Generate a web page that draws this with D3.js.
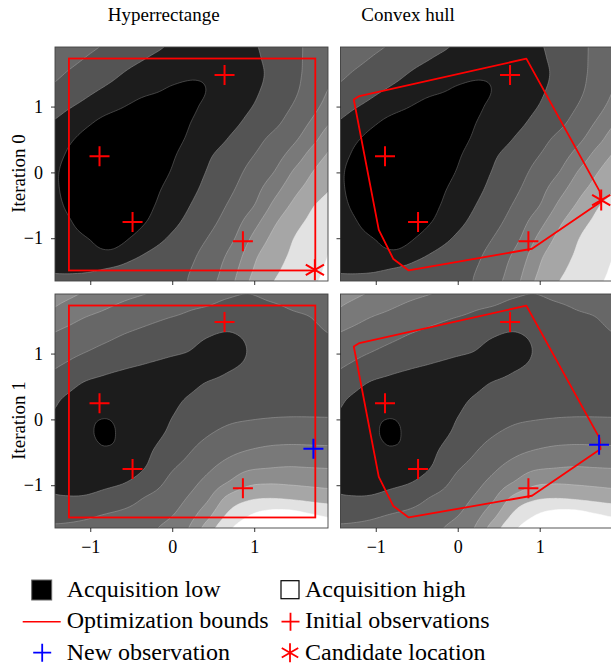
<!DOCTYPE html>
<html><head><meta charset="utf-8">
<script src="https://cdn.jsdelivr.net/npm/d3@7"></script>
<style>
body{margin:0;background:#fff;}
svg{display:block;}
text{font-family:"Liberation Serif","Times New Roman",serif;fill:#000;}
</style>
</head><body>
<svg id="chart" width="611" height="665"></svg>
<script>
// ---------------- data ----------------
const columnTitles = ["Hyperrectange", "Convex hull"];
const rowTitles = ["Iteration 0", "Iteration 1"];
const xTickValues = [-1, 0, 1];
const yTickValues = [-1, 0, 1];
const xExtent = [-1.43, 1.90];
const yExtent = [-1.65, 1.905];

// acquisition level thresholds (band k = values in [k, k+1))
const levelThresholds = [1, 2, 3, 4, 5, 6, 7, 8];
const levelColors = ["#000000", "#1c1c1c", "#545454", "#676767", "#797979", "#8d8d8d", "#a6a6a6", "#e2e2e2", "#ffffff"];

// acquisition surface, iteration 0 (rows from top y=2.0 down, step 0.25; columns from x=-1.5, step 0.25)
const acqGridStep = 0.25;
const acqIter0Origin = [-1.5, 2.0];
const acqIter0 = [
  [3.87, 3.56, 3.24, 2.92, 2.61, 2.29, 1.95, 1.7, 1.55, 1.7, 1.95, 2.4, 2.85, 3.24, 3.58],
  [3.59, 3.26, 2.92, 2.58, 2.24, 1.95, 1.7, 1.4, 1.3, 1.45, 1.85, 2.33, 2.84, 3.27, 3.68],
  [3.25, 2.9, 2.55, 2.2, 1.85, 1.6, 1.35, 1.15, 1.15, 1.35, 1.75, 2.28, 2.83, 3.36, 3.9],
  [2.89, 2.52, 2.14, 1.8, 1.5, 1.2, 0.85, 0.8, 1.14, 1.51, 1.87, 2.35, 2.89, 3.56, 4.23],
  [2.47, 2.06, 1.67, 1.28, 0.86, 0.36, 0.38, 0.88, 1.28, 1.66, 2.04, 2.56, 3.12, 3.85, 4.57],
  [1.98, 1.52, 1.06, 0.56, 0.3, 0.3, 0.56, 1.05, 1.45, 1.85, 2.32, 2.82, 3.48, 4.29, 5.2],
  [1.51, 1.1, 0.62, 0.3, 0.3, 0.3, 0.72, 1.21, 1.68, 2.17, 2.7, 3.28, 3.9, 4.88, 6.0],
  [1.3, 0.86, 0.3, 0.3, 0.3, 0.3, 0.9, 1.45, 2.02, 2.52, 3.02, 3.63, 4.5, 5.6, 6.33],
  [1.2, 0.72, 0.3, 0.3, 0.3, 0.56, 1.07, 1.65, 2.21, 2.74, 3.35, 4.05, 5.2, 6.13, 6.75],
  [1.2, 0.74, 0.3, 0.3, 0.3, 0.76, 1.29, 1.84, 2.4, 2.96, 3.66, 4.65, 5.75, 6.51, 7.1],
  [1.28, 0.84, 0.3, 0.3, 0.42, 0.92, 1.49, 2.07, 2.62, 3.24, 4.0, 5.26, 6.26, 7.03, 7.5],
  [1.45, 1.05, 0.56, 0.3, 0.62, 1.15, 1.76, 2.33, 2.87, 3.58, 4.65, 5.86, 6.71, 7.31, 7.8],
  [1.5, 1.25, 0.96, 0.54, 1.05, 1.61, 2.15, 2.63, 3.18, 3.94, 5.25, 6.3, 7.04, 7.55, 8.06],
  [1.6, 1.45, 1.3, 1.25, 1.75, 2.17, 2.53, 2.89, 3.49, 4.39, 5.78, 6.6, 7.2, 7.68, 8.15],
  [1.95, 1.93, 1.97, 2.15, 2.37, 2.59, 2.8, 3.05, 3.69, 4.76, 6.09, 6.85, 7.37, 7.83, 8.3],
  [2.3, 2.3, 2.35, 2.45, 2.6, 2.75, 2.87, 3.12, 3.9, 5.0, 6.4, 7.1, 7.6, 8.0, 8.4]
];

// acquisition surface, iteration 1 (rows from top y=2.05 down, columns from x=-1.58)
const acqIter1Origin = [-1.58, 2.05];
const acqIter1 = [
  [5.9, 5.7, 5.2, 4.84, 4.6, 4.3, 3.96, 3.63, 3.45, 3.3, 3.15, 3.3, 3.45, 3.7, 3.9],
  [5.48, 5.05, 4.63, 4.29, 4.0, 3.75, 3.5, 3.25, 3.15, 2.94, 2.85, 3.0, 3.15, 3.35, 3.6],
  [4.82, 4.39, 4.02, 3.77, 3.5, 3.25, 3.04, 2.88, 2.65, 2.44, 2.5, 2.6, 2.85, 2.98, 3.3],
  [4.09, 3.82, 3.56, 3.29, 3.0, 2.79, 2.62, 2.47, 2.12, 1.94, 2.15, 2.35, 2.62, 2.75, 3.0],
  [3.63, 3.38, 3.09, 2.79, 2.54, 2.36, 2.21, 2.06, 1.71, 1.52, 2.02, 2.3, 2.5, 2.62, 2.85],
  [3.22, 2.92, 2.53, 2.26, 2.07, 1.92, 1.76, 1.62, 1.61, 1.88, 2.12, 2.4, 2.5, 2.6, 2.75],
  [2.82, 2.42, 1.96, 1.76, 1.6, 1.45, 1.34, 1.73, 2.03, 2.2, 2.3, 2.55, 2.6, 2.66, 2.75],
  [2.45, 1.94, 1.52, 1.3, 1.2, 1.2, 1.64, 2.04, 2.31, 2.5, 2.6, 2.75, 2.78, 2.8, 2.83],
  [2.07, 1.68, 1.2, 1.03, 1.15, 1.4, 1.85, 2.26, 2.6, 2.8, 2.88, 2.95, 2.98, 2.98, 2.97],
  [1.75, 1.3, 1.15, 0.9, 1.15, 1.56, 2.02, 2.54, 2.9, 3.18, 3.39, 3.51, 3.56, 3.55, 3.53],
  [1.55, 1.25, 1.2, 1.03, 1.18, 1.76, 2.32, 2.83, 3.29, 3.68, 3.95, 4.12, 4.18, 4.16, 4.13],
  [1.55, 1.3, 1.22, 1.2, 1.52, 1.96, 2.71, 3.18, 3.73, 4.26, 4.7, 4.85, 4.94, 4.9, 4.86],
  [1.75, 1.58, 1.58, 1.74, 1.96, 2.4, 3.04, 3.59, 4.23, 4.97, 5.71, 5.87, 5.82, 5.73, 5.65],
  [2.2, 2.1, 2.11, 2.33, 2.62, 3.05, 3.42, 4.0, 4.81, 6.21, 6.83, 7.0, 6.91, 6.74, 6.58],
  [2.71, 2.71, 2.81, 3.02, 3.2, 3.41, 3.79, 4.45, 5.63, 7.09, 7.91, 8.35, 8.4, 8.1, 7.83],
  [3.16, 3.2, 3.3, 3.5, 3.65, 3.78, 4.27, 4.91, 6.5, 7.85, 8.6, 9.0, 9.0, 9.0, 8.7]
];

// observations
const initialObsX = [-0.887, -0.484, 0.638, 0.862];
const initialObsY = [0.245, -0.755, 1.48, -1.047];
// candidate location, iteration 0 (per column: hyperrectangle, convex hull)
const candidateX = [1.74, 1.75];
const candidateY = [-1.48, -0.42];
// new observation, iteration 1 (per column)
const newObsX = [1.722, 1.724];
const newObsY = [-0.445, -0.385];
// optimization bounds
const rectBoundsX = [-1.26, 1.745];
const rectBoundsY = [-1.49, 1.73];
const hullX = [-1.268, -1.20, 0.837, 1.73, 1.742, 0.906, -0.598, -0.785, -0.963];
const hullY = [1.108, 1.16, 1.728, -0.285, -0.45, -1.16, -1.49, -1.317, -0.874];

const legendLabels = ["Acquisition low", "Acquisition high", "Optimization bounds", "Initial observations", "New observation", "Candidate location"];

// ---------------- layout ----------------
const FONT = '"Liberation Serif","Times New Roman",serif';
const W = 273, H = 234;
const colLeft = [55, 340.5];
const rowTop = [47, 294];
const svg = d3.select("#chart");
const defs = svg.append("defs");

function upsample(rows, f) {
  const R = rows.length, C = rows[0].length;
  const nx = (C - 1) * f + 1, ny = (R - 1) * f + 1;
  const out = new Float64Array(nx * ny);
  const g = (j, i) => rows[Math.max(0, Math.min(R - 1, j))][Math.max(0, Math.min(C - 1, i))];
  const cr = (p0, p1, p2, p3, t) => p1 + 0.5 * t * (p2 - p0 + t * (2 * p0 - 5 * p1 + 4 * p2 - p3 + t * (3 * (p1 - p2) + p3 - p0)));
  for (let jj = 0; jj < ny; jj++) {
    const v = jj / f; const j = Math.min(Math.floor(v), R - 2); const tv = v - j;
    for (let ii = 0; ii < nx; ii++) {
      const u = ii / f; const i = Math.min(Math.floor(u), C - 2); const tu = u - i;
      const col = k => cr(g(j + k, i - 1), g(j + k, i), g(j + k, i + 1), g(j + k, i + 2), tu);
      out[jj * nx + ii] = cr(col(-1), col(0), col(1), col(2), tv);
    }
  }
  return {values: out, nx, ny};
}

const FACTOR = 8;
const fields = [
  {rows: acqIter0, origin: acqIter0Origin},
  {rows: acqIter1, origin: acqIter1Origin}
].map(fd => {
  const up = upsample(fd.rows, FACTOR);
  const contours = d3.contours().size([up.nx, up.ny]).thresholds(levelThresholds)(up.values);
  return {origin: fd.origin, contours};
});

function plusPath(r) { return `M${-r},0H${r}M0,${-r}V${r}`; }
function asteriskPath(r) {
  let p = "";
  [90, 30, -30].forEach(a => {
    const dx = r * Math.cos(a * Math.PI / 180), dy = r * Math.sin(a * Math.PI / 180);
    p += `M${-dx},${-dy}L${dx},${dy}`;
  });
  return p;
}

for (let row = 0; row < 2; row++) {
  for (let col = 0; col < 2; col++) {
    const px = colLeft[col], py = rowTop[row];
    const sx = d3.scaleLinear().domain(xExtent).range([px, px + W]);
    const sy = d3.scaleLinear().domain(yExtent).range([py + H, py]);
    const clipId = `clip${row}${col}`;
    defs.append("clipPath").attr("id", clipId).append("rect")
      .attr("x", px).attr("y", py).attr("width", W).attr("height", H);
    const g = svg.append("g").attr("clip-path", `url(#${clipId})`);
    g.append("rect").attr("x", px).attr("y", py).attr("width", W).attr("height", H).attr("fill", levelColors[0]);

    const fd = fields[row];
    const h = acqGridStep / FACTOR;
    const x0 = fd.origin[0], yTop = fd.origin[1];
    const proj = d3.geoTransform({
      point: function (cx, cy) { this.stream.point(sx(x0 + (cx - 0.5) * h), sy(yTop - (cy - 0.5) * h)); }
    });
    const path = d3.geoPath(proj);
    g.selectAll("path.band").data(fd.contours).join("path")
      .attr("class", "band")
      .attr("d", path)
      .attr("fill", (d, i) => levelColors[i + 1])
      .attr("stroke", (d, i) => d3.interpolateRgb(levelColors[i + 1], "#ffffff")(0.35))
      .attr("stroke-opacity", 0.8)
      .attr("stroke-width", 0.7);

    // optimization bounds
    if (col === 0) {
      g.append("rect")
        .attr("x", sx(rectBoundsX[0])).attr("y", sy(rectBoundsY[1]))
        .attr("width", sx(rectBoundsX[1]) - sx(rectBoundsX[0]))
        .attr("height", sy(rectBoundsY[0]) - sy(rectBoundsY[1]))
        .attr("fill", "none").attr("stroke", "#ff0000").attr("stroke-width", 1.8);
    } else {
      const pts = hullX.map((x, i) => [x, hullY[i]]);
      g.append("path")
        .attr("d", d3.line().x(d => sx(d[0])).y(d => sy(d[1])).curve(d3.curveLinearClosed)(pts))
        .attr("fill", "none").attr("stroke", "#ff0000").attr("stroke-width", 1.8).attr("stroke-linejoin", "round");
    }
    // initial observations
    g.selectAll("path.obs").data(initialObsX.map((x, i) => [x, initialObsY[i]])).join("path")
      .attr("class", "obs")
      .attr("transform", d => `translate(${sx(d[0])},${sy(d[1])})`)
      .attr("d", plusPath(10)).attr("stroke", "#ff0000").attr("stroke-width", 2).attr("fill", "none");
    if (row === 0) {
      g.append("path")
        .attr("transform", `translate(${sx(candidateX[col])},${sy(candidateY[col])})`)
        .attr("d", asteriskPath(10.5)).attr("stroke", "#ff0000").attr("stroke-width", 2).attr("fill", "none");
    } else {
      g.append("path")
        .attr("transform", `translate(${sx(newObsX[col])},${sy(newObsY[col])})`)
        .attr("d", plusPath(10)).attr("stroke", "#0000ff").attr("stroke-width", 2).attr("fill", "none");
    }

    // frame
    svg.append("rect").attr("x", px).attr("y", py).attr("width", W).attr("height", H)
      .attr("fill", "none").attr("stroke", "#444").attr("stroke-width", 0.9);

    // axes
    const ay = svg.append("g").attr("transform", `translate(${px},0)`)
      .call(d3.axisLeft(sy).tickValues(yTickValues).tickSize(4).tickPadding(8)
        .tickFormat(col === 0 ? d3.format("d") : () => ""));
    const ax = svg.append("g").attr("transform", `translate(0,${py + H})`)
      .call(d3.axisBottom(sx).tickValues(xTickValues).tickSize(4).tickPadding(8)
        .tickFormat(row === 1 ? d3.format("d") : () => ""));
    [ax, ay].forEach(a => {
      a.select(".domain").remove();
      a.attr("font-family", FONT).attr("font-size", 18);
      a.selectAll("line").attr("stroke", "#000").attr("stroke-width", 0.8);
      a.selectAll("text").attr("font-family", FONT).style("font-size", "18px").attr("fill", "#000");
    });
  }
}

// titles
columnTitles.forEach((t, i) => {
  svg.append("text").attr("x", [163.7, 408][i]).attr("y", 21)
    .attr("text-anchor", "middle").attr("font-family", FONT).style("font-size", "19px").text(t);
});
rowTitles.forEach((t, i) => {
  const cy = [173.5, 420.5][i];
  svg.append("text").attr("transform", `translate(25,${cy}) rotate(-90)`)
    .attr("text-anchor", "middle").attr("font-family", FONT).style("font-size", "19px").text(t);
});

// legend
const lg = svg.append("g");
lg.append("rect").attr("x", 31.7).attr("y", 580).attr("width", 20).attr("height", 20)
  .attr("fill", "#000").attr("stroke", "#666").attr("stroke-width", 1);
lg.append("rect").attr("x", 281).attr("y", 580.7).attr("width", 18).attr("height", 18)
  .attr("fill", "#fff").attr("stroke", "#000").attr("stroke-width", 1.2);
lg.append("line").attr("x1", 22.7).attr("x2", 60.7).attr("y1", 621.7).attr("y2", 621.7)
  .attr("stroke", "#ff0000").attr("stroke-width", 1.5);
lg.append("path").attr("transform", "translate(290.5,621.7)").attr("d", plusPath(9))
  .attr("stroke", "#ff0000").attr("stroke-width", 1.8).attr("fill", "none");
lg.append("path").attr("transform", "translate(42.2,652.7)").attr("d", plusPath(9))
  .attr("stroke", "#0000ff").attr("stroke-width", 1.8).attr("fill", "none");
lg.append("path").attr("transform", "translate(290,652.7)").attr("d", asteriskPath(9.5))
  .attr("stroke", "#ff0000").attr("stroke-width", 1.8).attr("fill", "none");
const legendPos = [[66.7, 596.5], [305, 596.5], [66.7, 628.3], [305, 628.3], [66.7, 660], [305, 660]];
legendLabels.forEach((t, i) => {
  lg.append("text").attr("x", legendPos[i][0]).attr("y", legendPos[i][1])
    .attr("font-family", FONT).style("font-size", "24px").text(t);
});
</script>
</body></html>
